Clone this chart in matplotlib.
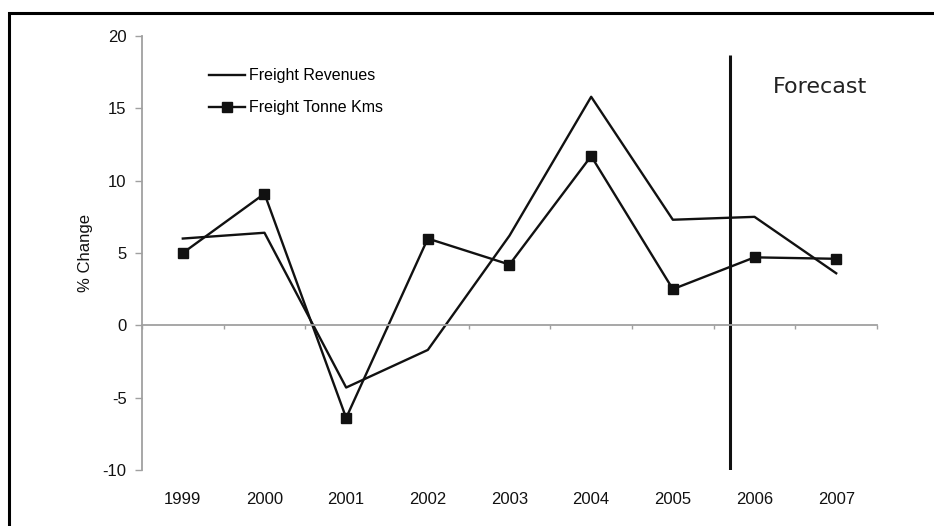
import matplotlib
matplotlib.use('Agg')
import matplotlib.pyplot as plt
from matplotlib.patches import Rectangle

years = ['1999', '2000', '2001', '2002', '2003', '2004', '2005', '2006', '2007']
revenues = [6.0, 6.4, -4.3, -1.7, 6.2, 15.8, 7.3, 7.5, 3.6]
tonne_kms = [5.0, 9.1, -6.4, 6.0, 4.2, 11.7, 2.5, 4.7, 4.6]
y_ticks = [-10, -5, 0, 5, 10, 15, 20]

AXIS_GREY = '#a0a0a0'
INK = '#111111'

plt.rcParams['font.family'] = ['Liberation Sans', 'DejaVu Sans']
plt.rcParams['axes.unicode_minus'] = False

fig = plt.figure(figsize=(9.34, 5.26), dpi=100)
ax = fig.add_axes([0.152, 0.1065, 0.787, 0.825])

x = list(range(len(years)))
ax.plot(x, revenues, color=INK, lw=1.7, label='Freight Revenues')
ax.plot(x, tonne_kms, color=INK, lw=1.7, marker='s', ms=7,
        label='Freight Tonne Kms')

# forecast divider between 2005 and 2006
ax.plot([6.7, 6.7], [-10, 18.7], color=INK, lw=2.2, solid_capstyle='butt')
ax.text(7.23, 16.5, 'Forecast', family='DejaVu Sans', fontsize=16,
        color='#222222', va='center', ha='left')

ax.set_xlim(-0.5, len(years) - 0.5)
ax.set_ylim(-10, 20)
ax.set_yticks(y_ticks)
ax.tick_params(axis='y', direction='out', length=5, width=1,
               color=AXIS_GREY, labelsize=12, pad=6, labelcolor=INK)

# x axis line runs through zero, ticks sit between categories
ax.spines['bottom'].set_position(('data', 0))
ax.spines['bottom'].set_color(AXIS_GREY)
ax.spines['bottom'].set_linewidth(1.3)
ax.spines['left'].set_color(AXIS_GREY)
ax.spines['left'].set_linewidth(1.3)
ax.spines['top'].set_visible(False)
ax.spines['right'].set_visible(False)
ax.set_xticks([i - 0.5 for i in range(len(years) + 1)])
ax.tick_params(axis='x', direction='out', length=3, width=1,
               color=AXIS_GREY, labelbottom=False)

# year labels below the plot area
sec = ax.secondary_xaxis('bottom')
sec.set_xticks(x, years)
sec.tick_params(length=0, pad=16, labelsize=12, labelcolor=INK)
sec.spines['bottom'].set_visible(False)

ax.set_ylabel('% Change', fontsize=12, color=INK, labelpad=7)

ax.legend(loc='upper left', bbox_to_anchor=(0.082, 0.94), frameon=False,
          fontsize=11.5, handlelength=2.3, handletextpad=0.2,
          labelspacing=1.05, borderaxespad=0)

# outer frame, runs past the right and bottom edges
fig.patches.append(Rectangle((9 / 934, -0.05), 1.0, 1 - 13 / 526 + 0.05,
                             transform=fig.transFigure, fill=False,
                             ec='black', lw=2.2))

fig.savefig('out.png', dpi=100, facecolor='white')
